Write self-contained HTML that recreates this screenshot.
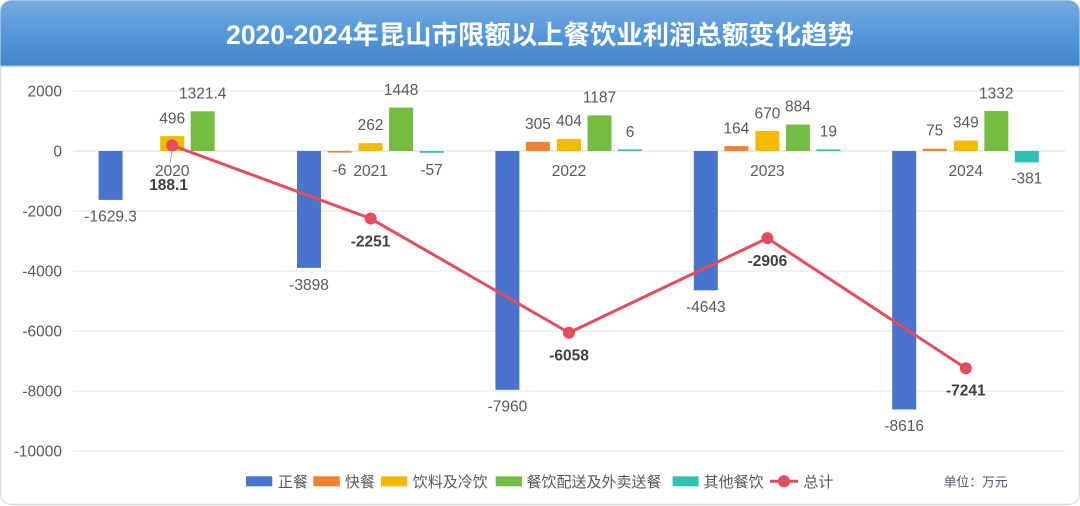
<!DOCTYPE html>
<html>
<head>
<meta charset="utf-8">
<style>
  html,body{margin:0;padding:0;background:#ffffff;}
  body{width:1080px;height:506px;overflow:hidden;}
  svg{display:block;}
  .t{font-family:"Liberation Sans","Noto Sans CJK SC",sans-serif;}
  .ax{font-size:15.5px;fill:#595959;}
  .vl{font-size:15.5px;fill:#595959;}
  .bl{font-size:15.5px;fill:#404040;font-weight:bold;}
  .lg{font-size:15px;fill:#595959;}
</style>
</head>
<body>
<svg width="1080" height="506" viewBox="0 0 1080 506" xmlns="http://www.w3.org/2000/svg">
  <defs>
    <linearGradient id="hg" x1="0" y1="0" x2="0" y2="1">
      <stop offset="0" stop-color="#7AABDF"/>
      <stop offset="0.5" stop-color="#5598DB"/>
      <stop offset="1" stop-color="#4486C7"/>
    </linearGradient>
    <clipPath id="cc"><rect x="0.5" y="0.5" width="1079" height="504" rx="11" ry="11"/></clipPath>
  </defs>

  <!-- card -->
  <rect x="0.5" y="0.5" width="1079" height="504" rx="11" ry="11" fill="#ffffff" stroke="#dcdcdc" stroke-width="1.5"/>
  <g clip-path="url(#cc)">
    <rect x="0" y="0" width="1080" height="66" fill="url(#hg)"/>
    <rect x="0" y="65.5" width="1080" height="1.5" fill="#b5d0ec"/>
  </g>
  <text class="t" x="540" y="44.2" text-anchor="middle" font-size="26.4" font-weight="bold" fill="#ffffff" font-family="'Liberation Sans','Noto Sans CJK SC',sans-serif">2020-2024年昆山市限额以上餐饮业利润总额变化趋势</text>

  <!-- gridlines -->
  <g stroke="#e5e5e5" stroke-width="1">
    <line x1="73" y1="91" x2="1065" y2="91"/>
    <line x1="73" y1="211" x2="1065" y2="211"/>
    <line x1="73" y1="271" x2="1065" y2="271"/>
    <line x1="73" y1="331" x2="1065" y2="331"/>
    <line x1="73" y1="391" x2="1065" y2="391"/>
    <line x1="73" y1="451" x2="1065" y2="451"/>
  </g>
  <line x1="73" y1="151" x2="1065" y2="151" stroke="#d9d9d9" stroke-width="1"/>

  <!-- y axis labels -->
  <g class="t ax" text-anchor="end">
    <text x="62" y="96.5">2000</text>
    <text x="62" y="156.5">0</text>
    <text x="62" y="216.5">-2000</text>
    <text x="62" y="276.5">-4000</text>
    <text x="62" y="336.5">-6000</text>
    <text x="62" y="396.5">-8000</text>
    <text x="62" y="456.5">-10000</text>
  </g>

  <!-- bars: blue 正餐 -->
  <g fill="#4874CB">
    <rect x="98.6" y="151" width="24" height="48.9"/>
    <rect x="297" y="151" width="24" height="116.9"/>
    <rect x="495.4" y="151" width="24" height="238.8"/>
    <rect x="693.8" y="151" width="24" height="139.3"/>
    <rect x="892.2" y="151" width="24" height="258.5"/>
  </g>
  <!-- orange 快餐 -->
  <g fill="#EE822F">
    <rect x="327.5" y="151" width="24" height="1.6"/>
    <rect x="525.9" y="141.85" width="24" height="9.15"/>
    <rect x="724.3" y="146.08" width="24" height="4.92"/>
    <rect x="922.7" y="148.75" width="24" height="2.25"/>
  </g>
  <!-- yellow 饮料及冷饮 -->
  <g fill="#F2BA02">
    <rect x="160.2" y="136.12" width="24" height="14.88"/>
    <rect x="358.6" y="143.14" width="24" height="7.86"/>
    <rect x="557" y="138.88" width="24" height="12.12"/>
    <rect x="755.4" y="130.9" width="24" height="20.1"/>
    <rect x="953.8" y="140.53" width="24" height="10.47"/>
  </g>
  <!-- green 餐饮配送及外卖送餐 -->
  <g fill="#75BD42">
    <rect x="190.7" y="111.36" width="24" height="39.64"/>
    <rect x="389.1" y="107.56" width="24" height="43.44"/>
    <rect x="587.5" y="115.39" width="24" height="35.61"/>
    <rect x="785.9" y="124.48" width="24" height="26.52"/>
    <rect x="984.3" y="111.04" width="24" height="39.96"/>
  </g>
  <!-- teal 其他餐饮 -->
  <g fill="#30C0B4">
    <rect x="419.6" y="151" width="24" height="1.8"/>
    <rect x="618" y="149.4" width="24" height="1.6"/>
    <rect x="816.4" y="149.4" width="24" height="1.6"/>
    <rect x="1014.8" y="151" width="24" height="11.43"/>
  </g>

  <!-- bar value labels -->
  <g class="t vl" text-anchor="middle">
    <text x="110.6" y="221.5">-1629.3</text>
    <text x="172.2" y="123.3">496</text>
    <text x="202.7" y="98.6">1321.4</text>

    <text x="309" y="290">-3898</text>
    <text x="339.5" y="175">-6</text>
    <text x="370.6" y="130">262</text>
    <text x="401.1" y="94.8">1448</text>
    <text x="431.6" y="175">-57</text>

    <text x="507.4" y="411.3">-7960</text>
    <text x="537.9" y="129.2">305</text>
    <text x="569" y="126.1">404</text>
    <text x="599.5" y="102.6">1187</text>
    <text x="630" y="136.8">6</text>

    <text x="705.8" y="311.8">-4643</text>
    <text x="736.3" y="133.3">164</text>
    <text x="767.4" y="118.3">670</text>
    <text x="797.9" y="111.6">884</text>
    <text x="828.4" y="136.3">19</text>

    <text x="904.2" y="431">-8616</text>
    <text x="934.7" y="135.7">75</text>
    <text x="965.8" y="127.5">349</text>
    <text x="996.3" y="98.3">1332</text>
    <text x="1026.8" y="183.5">-381</text>
  </g>

  <!-- category labels -->
  <g class="t vl" text-anchor="middle">
    <text x="172.2" y="176">2020</text>
    <text x="370.6" y="176">2021</text>
    <text x="569" y="176">2022</text>
    <text x="767.4" y="176">2023</text>
    <text x="965.8" y="176">2024</text>
  </g>

  <!-- leader line for 188.1 -->
  <line x1="172.4" y1="150" x2="170" y2="163.5" stroke="#a6a6a6" stroke-width="0.9"/>

  <!-- total line -->
  <polyline points="172.2,145.36 370.6,218.53 569,332.74 767.4,238.18 965.8,368.23" fill="none" stroke="#E54C5E" stroke-width="3" stroke-linejoin="round"/>
  <g fill="#E54C5E">
    <circle cx="172.2" cy="145.36" r="6"/>
    <circle cx="370.6" cy="218.53" r="6"/>
    <circle cx="569" cy="332.74" r="6"/>
    <circle cx="767.4" cy="238.18" r="6"/>
    <circle cx="965.8" cy="368.23" r="6"/>
  </g>

  <!-- line labels -->
  <g class="t bl" text-anchor="middle">
    <text x="168.6" y="190">188.1</text>
    <text x="370.6" y="246.6">-2251</text>
    <text x="569" y="360.6">-6058</text>
    <text x="767.4" y="266">-2906</text>
    <text x="965.8" y="395.6">-7241</text>
  </g>

  <!-- legend -->
  <rect x="246" y="476.3" width="26.3" height="10" fill="#4874CB"/>
  <text class="t lg" x="278" y="487">正餐</text>
  <rect x="313.3" y="476.3" width="26.5" height="10" fill="#EE822F"/>
  <text class="t lg" x="345" y="487">快餐</text>
  <rect x="381" y="476.3" width="26.3" height="10" fill="#F2BA02"/>
  <text class="t lg" x="412.7" y="487">饮料及冷饮</text>
  <rect x="495.7" y="476.3" width="26.3" height="10" fill="#75BD42"/>
  <text class="t lg" x="526.5" y="487">餐饮配送及外卖送餐</text>
  <rect x="672.6" y="476.3" width="26" height="10" fill="#30C0B4"/>
  <text class="t lg" x="703.6" y="487">其他餐饮</text>
  <line x1="770" y1="481.3" x2="798" y2="481.3" stroke="#E54C5E" stroke-width="3"/>
  <circle cx="784" cy="481.3" r="6" fill="#E54C5E"/>
  <text class="t lg" x="803.4" y="487">总计</text>

  <text class="t" x="943.6" y="486.5" font-size="12.8" fill="#44546A">单位：万元</text>
</svg>
</body>
</html>
